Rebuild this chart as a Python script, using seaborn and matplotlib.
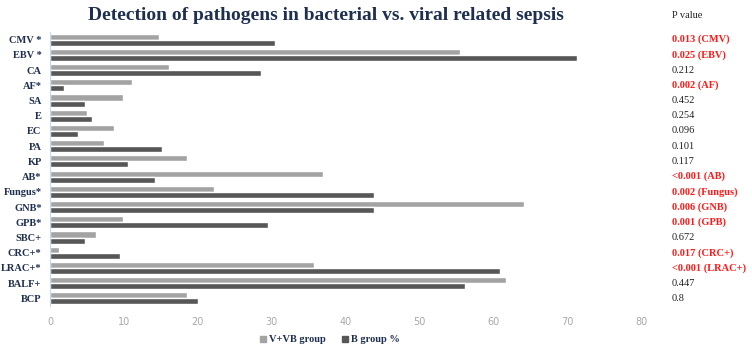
import pandas as pd
import matplotlib
matplotlib.use("Agg")
import matplotlib.pyplot as plt
import seaborn as sns

# 類別與數值
categories = ["CMV *", "EBV *", "CA", "AF*", "SA", "E", "EC", "PA", "KP", "AB*",
              "Fungus*", "GNB*", "GPB*", "SBC+", "CRC+*", "LRAC+*", "BALF+", "BCP"]
v_vb_group = [14.8, 55.5, 16.1, 11.1, 9.9, 5.0, 8.6, 7.3, 18.5, 37.0,
              22.2, 64.2, 9.9, 6.2, 1.2, 35.8, 61.7, 18.5]
b_group = [30.4, 71.4, 28.5, 1.9, 4.8, 5.7, 3.8, 15.2, 10.5, 14.2,
           43.8, 43.8, 29.5, 4.8, 9.5, 60.9, 56.2, 20.0]
group_names = ["V+VB group", "B group %"]
p_values = ["0.013 (CMV)", "0.025 (EBV)", "0.212", "0.002 (AF)", "0.452", "0.254",
            "0.096", "0.101", "0.117", "<0.001 (AB)", "0.002 (Fungus)", "0.006 (GNB)",
            "0.001 (GPB)", "0.672", "0.017 (CRC+)", "<0.001 (LRAC+)", "0.447", "0.8"]
p_significant = [True, True, False, True, False, False, False, False, False, True,
                 True, True, True, False, True, True, False, False]

df = pd.DataFrame({
    "cat": categories * 2,
    "val": v_vb_group + b_group,
    "grp": [group_names[0]] * len(categories) + [group_names[1]] * len(categories),
})

sns.set_style("white")
plt.rcParams["font.family"] = ["Liberation Serif", "DejaVu Serif"]

navy = "#1f2f4f"
fig = plt.figure(figsize=(7.52, 3.49), dpi=100)
ax = fig.add_axes([50 / 752, 1 - 306 / 349, 591 / 752, 274 / 349])

sns.barplot(data=df, x="val", y="cat", hue="grp", orient="h",
            palette=["#a3a3a3", "#575757"], width=0.8, ax=ax, legend=False)

ax.set_xlim(0, 80)
ax.set_xticks(range(0, 81, 10))
ax.set_xlabel("")
ax.set_ylabel("")
for s in ["top", "right", "bottom"]:
    ax.spines[s].set_visible(False)
ax.spines["left"].set_color("#c5d9ee")
ax.tick_params(axis="x", length=0, labelsize=7, labelcolor="#a8a8a8", pad=8)
ax.tick_params(axis="y", length=3, color="#c5d9ee", labelsize=7.5, labelcolor=navy, pad=3)
for lbl in ax.get_xticklabels():
    lbl.set_family("DejaVu Sans")
for lbl in ax.get_yticklabels():
    lbl.set_fontweight("bold")

# 圖例
handles = [plt.Rectangle((0, 0), 1, 1, color=c) for c in ["#a3a3a3", "#575757"]]
fig.legend(handles, group_names, loc="center", bbox_to_anchor=(330 / 752, 1 - 340 / 349),
           ncol=2, frameon=False, handlelength=0.6, handleheight=0.6, handletextpad=0.3,
           columnspacing=1.5, prop={"weight": "bold", "size": 7.5}, labelcolor=navy)

# 標題
fig.text(326 / 752, 1 - 16 / 349, "Detection of pathogens in bacterial vs. viral related sepsis",
         ha="center", va="center", fontsize=14, fontweight="bold", color=navy)

# P 值欄位
trans = ax.get_yaxis_transform()
fig.text(672 / 752, 1 - 16 / 349, "P value", ha="left", va="center", fontsize=7.5, color="#222222")
for i, (txt, sig) in enumerate(zip(p_values, p_significant)):
    ax.text(1.052, i, txt, transform=trans, ha="left", va="center",
            fontsize=7.5, color="#ff1a1a" if sig else "#222222",
            fontweight="bold" if sig else "normal", clip_on=False)

fig.savefig("out.png", dpi=100)
